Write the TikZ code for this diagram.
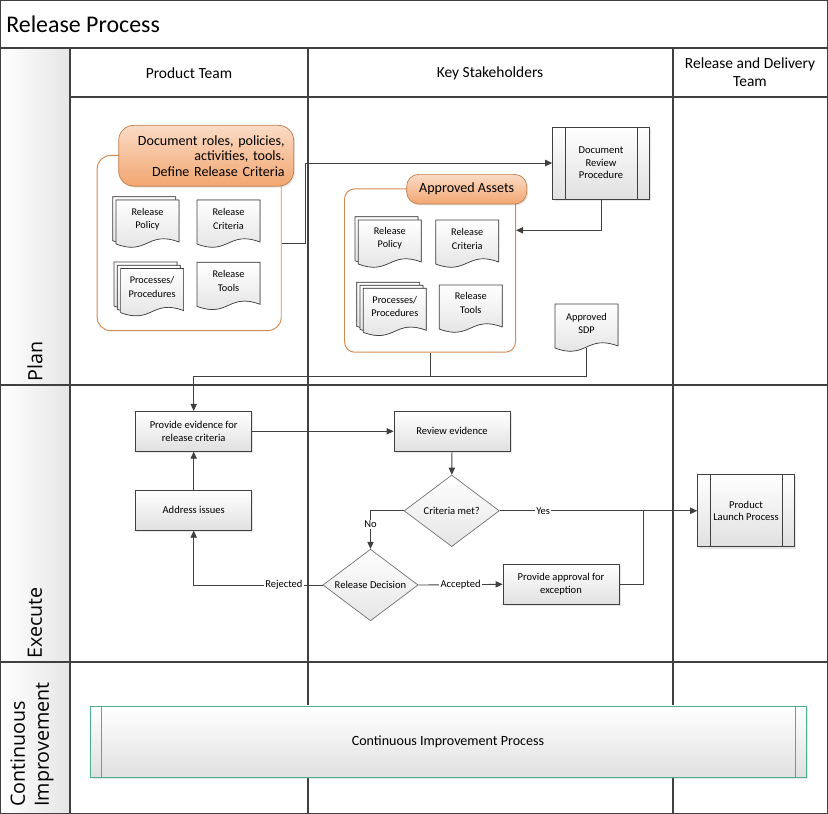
\documentclass[tikz,border=0pt]{standalone}
\usepackage{fontspec}
\setmainfont{Carlito}
\newfontfamily\lanefont{Open Sans}
\usetikzlibrary{shapes.geometric,arrows.meta,shadows,calc}
\definecolor{ink}{HTML}{404040}
\definecolor{peach}{HTML}{FADBC6}
\definecolor{apricot}{HTML}{F2A670}
\definecolor{rust}{HTML}{D68B52}
\definecolor{mint}{HTML}{4DB088}
\newcommand{\sheet}[2]{%
	\filldraw[sheet] (#1,#2) -- (#1+63,#2) -- (#1+63,#2+42)
		.. controls (#1+31.5,#2+30) and (#1+31.5,#2+56) .. (#1,#2+44) -- cycle;}
\tikzset{
	grid line/.style={draw=ink, line width=0.75pt},
	flow/.style={draw=ink, line width=0.6pt, -{Triangle[length=5pt,width=4.5pt]}},
	link/.style={draw=ink, line width=0.6pt},
	task/.style={rectangle, draw=ink, line width=0.5pt, top color=white, bottom color=black!12,
		minimum width=2.9cm, minimum height=1cm, align=center, font=\fontsize{7.5}{9}\selectfont,
		drop shadow={opacity=0.2, shadow xshift=1.2pt, shadow yshift=-1.2pt}},
	decide/.style={diamond, draw=black!55, line width=0.5pt, top color=white, bottom color=black!10,
		aspect=1.33, inner sep=0pt, minimum width=2.38cm, minimum height=1.79cm,
		align=center, font=\fontsize{7.5}{9}\selectfont},
	subproc/.style={task, minimum width=2.42cm, minimum height=1.8cm, font=\fontsize{7.5}{8.9}\selectfont,
		path picture={\draw[ink, line width=0.5pt]
			([xshift=0.31cm]path picture bounding box.north west) -- ([xshift=0.31cm]path picture bounding box.south west)
			([xshift=-0.31cm]path picture bounding box.north east) -- ([xshift=-0.31cm]path picture bounding box.south east);}},
	sheet/.style={draw=ink, line width=0.5pt, top color=white, bottom color=black!12},
	sheettext/.style={align=center, inner sep=0pt, font=\fontsize{7.3}{9.5}\selectfont},
	group/.style={draw=rust, line width=0.7pt, anchor=north west, inner sep=0pt},
	tag/.style={draw=rust!90!black, line width=0.5pt, top color=peach, bottom color=apricot,
		font=\fontsize{10}{11}\selectfont,
		drop shadow={opacity=0.2, shadow xshift=1pt, shadow yshift=-1pt}},
	lane/.style={font=\lanefont\fontsize{14}{17}\selectfont, rotate=90, anchor=west, inner sep=0pt, align=left},
	head/.style={font=\fontsize{11}{13}\selectfont, align=center},
	lbl/.style={fill=white, inner sep=1pt, font=\fontsize{7.5}{9}\selectfont}
}
\begin{document}
\begin{tikzpicture}[x=0.025cm, y=-0.025cm]
	\useasboundingbox (0,0) rectangle (828,814);
	% swimlane frame
	\shade[left color=white, middle color=white, right color=black!10] (0,48) rectangle (70,814);
	\draw[grid line] (0.4,0.4) rectangle (827.6,813.6);
	\draw[grid line] (0,48) -- (828,48);
	\draw[grid line] (70,97) -- (828,97);
	\draw[grid line] (0,385) -- (828,385);
	\draw[grid line] (0,662) -- (828,662);
	\draw[grid line] (70,48) -- (70,814);
	\draw[grid line] (308,48) -- (308,814);
	\draw[grid line] (673,48) -- (673,814);
	%
	\node[anchor=west, inner sep=0pt, font=\fontsize{17}{20}\selectfont] (title) at (6,24) {Release Process};
	\node[head] (hprod) at (189,73) {Product Team};
	\node[head] (hkey) at (490,73) {Key Stakeholders};
	\node[head] (hrel) at (750,72.5) {Release and Delivery\\Team};
	\node[lane] (lplan) at (35,382) {Plan};
	\node[lane] (lexec) at (35,659) {Execute};
	\node[lane] (lci) at (32,807) {Continuous\\Improvement};
	% plan: product team
	\node[group, rounded corners=0.33cm, minimum width=4.6cm, minimum height=4.375cm] (gprod) at (96.7,155) {};
	\node[tag, anchor=north west, rounded corners=0.38cm, text width=3.925cm, inner xsep=0.225cm,
		minimum height=1.52cm, align=right] (tdoc) at (118.3,125) {Document roles, policies,\\activities, tools.\\Define Release Criteria};
	\sheet{112.7}{196.7} \sheet{116}{200}
	\sheet{197}{200}
	\sheet{114}{262} \sheet{117.3}{265.3} \sheet{120.6}{268.6}
	\sheet{197}{262.3}
	\node[sheettext] (pol1) at (147.5,219) {Release\\Policy};
	\node[sheettext] (crit1) at (228.5,219) {Release\\Criteria};
	\node[sheettext] (proc1) at (152.1,287) {Processes/\\Procedures};
	\node[sheettext] (tool1) at (228.5,281) {Release\\Tools};
	% plan: key stakeholders
	\node[subproc] (drp) at (601,163) {Document\\Review\\Procedure};
	\node[group, rounded corners=0.26cm, minimum width=4.275cm, minimum height=4.085cm] (gappr) at (344,188.3) {};
	\node[tag, rounded corners=0.3cm, minimum width=3cm, minimum height=0.74cm] (tappr) at (466.7,189.2) {Approved Assets};
	\sheet{355}{216.7} \sheet{358.3}{220}
	\sheet{435.7}{220}
	\sheet{356.7}{282.3} \sheet{360}{285.3} \sheet{363.3}{288.3}
	\sheet{439.3}{285}
	\sheet{555}{304}
	\node[sheettext] (pol2) at (389.8,238.5) {Release\\Policy};
	\node[sheettext] (crit2) at (467.2,239) {Release\\Criteria};
	\node[sheettext] (proc2) at (394.8,306.5) {Processes/\\Procedures};
	\node[sheettext] (tool2) at (470.8,303) {Release\\Tools};
	\node[sheettext] (sdp) at (586.5,323.3) {Approved\\SDP};
	\coordinate (sdpfoot) at (586.5,348);
	% execute
	\node[task] (evid) at (193.7,431.3) {Provide evidence for\\release criteria};
	\node[task] (fix) at (193.7,510.3) {Address issues};
	\node[task] (review) at (452,431.3) {Review evidence};
	\node[decide] (met) at (451.7,510.8) {Criteria met?};
	\node[decide] (verdict) at (370.5,585) {Release Decision};
	\node[task] (waive) at (561,584.3) {Provide approval for\\exception};
	\node[subproc] (launch) at (746,510.8) {Product\\Launch Process};
	% continuous improvement
	\node[task, draw=mint, minimum width=17.9cm, minimum height=1.78cm, font=\fontsize{10}{12}\selectfont,
		path picture={\draw[mint, line width=0.5pt]
			([xshift=0.28cm]path picture bounding box.north west) -- ([xshift=0.28cm]path picture bounding box.south west)
			([xshift=-0.28cm]path picture bounding box.north east) -- ([xshift=-0.28cm]path picture bounding box.south east);}]
		(cip) at (448,741.5) {Continuous Improvement Process};
	% connectors
	\draw[flow] (gprod.east) -- ++(24,0) |- (drp.west);
	\draw[flow] (drp.south) |- ($(gappr.north east)+(0,42)$);
	\draw[flow] (gappr.south) -- ++(0,24) -| (evid.north);
	\draw[link] (sdpfoot) |- ($(gappr.south)+(0,24)$);
	\draw[flow] (fix) -- (evid);
	\draw[flow] (evid) -- (review);
	\draw[flow] (review) -- (met);
	\draw[flow] (met.west) -| node[lbl, pos=0.68] {No} (verdict.north);
	\draw[flow] (met.east) -- node[lbl, pos=0.22] {Yes} (launch.west);
	\draw[flow] (verdict.west) -| node[lbl, pos=0.15] {Rejected} (fix.south);
	\draw[flow] (verdict.east) -- node[lbl] {Accepted} (waive.west);
	\draw[link] (waive.east) -- ++(24,0) coordinate (bend) -- (bend |- met.east);
\end{tikzpicture}
\end{document}
